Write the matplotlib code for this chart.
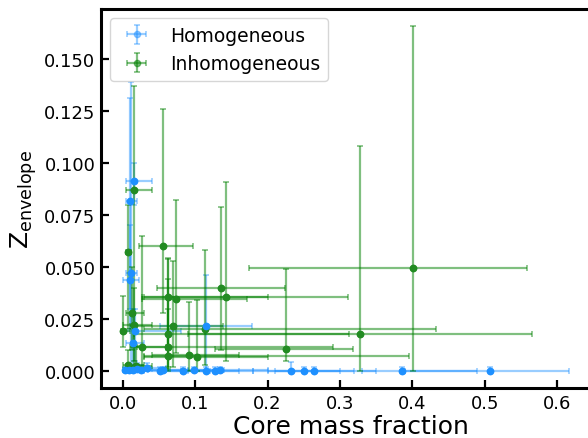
import matplotlib
matplotlib.use("Agg")
import matplotlib.pyplot as plt
import numpy as np

# Homogeneous (blue) points: x, y, and absolute error-bar bounds
hom_x   = [0.016, 0.0106, 0.011, 0.010, 0.0143, 0.0175, 0.115,
           0.003, 0.009, 0.014, 0.034, 0.051, 0.056, 0.083, 0.099, 0.115,
           0.127, 0.135, 0.233, 0.251, 0.264, 0.386, 0.508, 0.020, 0.025]
hom_y   = [0.0913, 0.0816, 0.047, 0.0439, 0.0133, 0.0194, 0.0218,
           0.0003, 0.0004, 0.0005, 0.0014, 0.0002, 0.0003, 0.0002, 0.0003, 0.0002,
           0.0002, 0.0003, 0.0002, 0.0002, 0.0002, 0.0002, 0.0002, 0.0008, 0.0005]
hom_xlo = [0.005, 0.004, 0.005, 0.000, 0.005, 0.000, 0.051,
           0.000, 0.002, 0.004, 0.010, 0.030, 0.035, 0.050, 0.060, 0.080,
           0.090, 0.100, 0.180, 0.200, 0.210, 0.330, 0.390, 0.005, 0.010]
hom_xhi = [0.040, 0.020, 0.020, 0.022, 0.030, 0.080, 0.179,
           0.010, 0.020, 0.030, 0.060, 0.080, 0.090, 0.120, 0.140, 0.160,
           0.180, 0.200, 0.300, 0.320, 0.350, 0.490, 0.616, 0.040, 0.050]
hom_ylo = [0.080, 0.030, 0.000, 0.020, 0.000, 0.005, 0.000,
           0.000, 0.000, 0.000, 0.000, 0.000, 0.000, 0.000, 0.000, 0.000,
           0.000, 0.000, 0.000, 0.000, 0.000, 0.000, 0.000, 0.000, 0.000]
hom_yhi = [0.100, 0.131, 0.139, 0.070, 0.030, 0.030, 0.046,
           0.002, 0.003, 0.003, 0.004, 0.002, 0.002, 0.002, 0.002, 0.002,
           0.002, 0.002, 0.0045, 0.002, 0.002, 0.002, 0.002, 0.004, 0.003]

# Inhomogeneous (green) points
inh_x   = [0.0156, 0.055, 0.007, 0.136, 0.142, 0.073, 0.225, 0.328, 0.401,
           0.063, 0.0626, 0.091, 0.103, 0.114, 0.069, 0.063, 0.027, 0.000,
           0.016, 0.0124, 0.007, 0.018, 0.063]
inh_y   = [0.087, 0.060, 0.057, 0.040, 0.0356, 0.0346, 0.0106, 0.0178, 0.0494,
           0.0114, 0.0074, 0.0078, 0.0069, 0.020, 0.0218, 0.0178, 0.0114, 0.0192,
           0.0223, 0.028, 0.003, 0.0026, 0.0357]
inh_xlo = [0.005, 0.022, 0.004, 0.047, 0.027, 0.026, 0.127, 0.090, 0.174,
           0.020, 0.030, 0.040, 0.030, 0.030, 0.010, 0.015, 0.010, -0.002,
           0.000, 0.005, 0.000, 0.005, 0.030]
inh_xhi = [0.040, 0.097, 0.012, 0.224, 0.311, 0.171, 0.318, 0.566, 0.558,
           0.290, 0.395, 0.160, 0.200, 0.433, 0.138, 0.313, 0.060, 0.010,
           0.040, 0.030, 0.030, 0.040, 0.200]
inh_ylo = [0.000, 0.028, 0.020, 0.010, 0.005, 0.0087, 0.005, 0.000, 0.000,
           0.002, 0.000, 0.000, 0.000, 0.003, 0.002, 0.001, 0.000, 0.0115,
           0.005, 0.010, 0.000, 0.000, 0.010]
inh_yhi = [0.137, 0.126, 0.080, 0.079, 0.091, 0.082, 0.049, 0.108, 0.166,
           0.054, 0.030, 0.033, 0.034, 0.058, 0.053, 0.0545, 0.0648, 0.036,
           0.040, 0.050, 0.010, 0.012, 0.044]

fig = plt.figure(figsize=(5.88, 4.39), dpi=100)
ax = fig.add_axes([0.1718, 0.1139, 0.8495, 0.8633])


def bounds(x, lo, hi):
    x = np.asarray(x); return np.vstack([x - np.asarray(lo), np.asarray(hi) - x])


ax.errorbar(hom_x, hom_y, xerr=bounds(hom_x, hom_xlo, hom_xhi),
            yerr=bounds(hom_y, hom_ylo, hom_yhi), fmt='o', color='dodgerblue',
            ms=4.5, elinewidth=1.6, capsize=2, capthick=1.2, alpha=0.45,
            label='Homogeneous')
ax.errorbar(inh_x, inh_y, xerr=bounds(inh_x, inh_xlo, inh_xhi),
            yerr=bounds(inh_y, inh_ylo, inh_yhi), fmt='o', color='green',
            ms=4.5, elinewidth=1.6, capsize=2, capthick=1.2, alpha=0.5,
            label='Inhomogeneous')
ax.plot(inh_x, inh_y, 'o', color='forestgreen', ms=4.5, zorder=3)
ax.plot(hom_x, hom_y, 'o', color='dodgerblue', ms=4.5, zorder=3)

ax.set_xlim(-0.03, 0.66)
ax.set_ylim(-0.0082, 0.174)
ax.set_xticks([0.0, 0.1, 0.2, 0.3, 0.4, 0.5, 0.6])
ax.set_yticks([0.0, 0.025, 0.05, 0.075, 0.1, 0.125, 0.15])
ax.set_yticklabels(['0.000', '0.025', '0.050', '0.075', '0.100', '0.125', '0.150'])
ax.tick_params(direction='in', length=6, width=1.6, labelsize=13, pad=4)
for s in ax.spines.values():
    s.set_linewidth(2.2)
ax.set_xlabel('Core mass fraction', fontsize=18, labelpad=2)
ax.set_ylabel(r'Z$_{\rm envelope}$', fontsize=18, labelpad=4)
ax.legend(loc='upper left', fontsize=13.5, handletextpad=0.8, borderaxespad=0.5)

fig.savefig('out.png', dpi=100)
